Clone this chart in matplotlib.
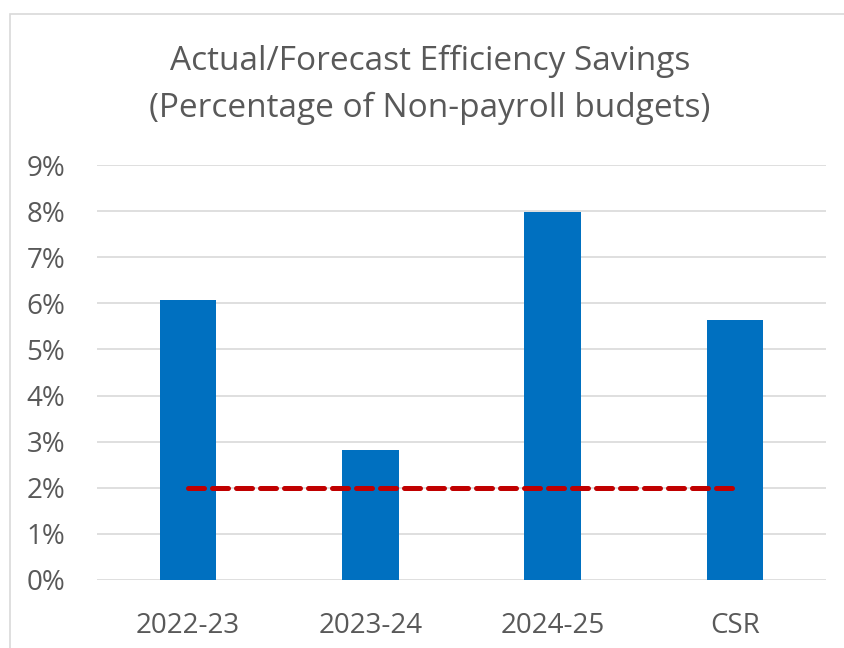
import matplotlib.pyplot as plt
from matplotlib.patches import Rectangle
from matplotlib.ticker import PercentFormatter

# data
categories = ['2022-23', '2023-24', '2024-25', 'CSR']
savings = [6.07, 2.82, 7.98, 5.64]
target = [2.0, 2.0, 2.0, 2.0]

plt.rcParams['font.family'] = ['Open Sans', 'DejaVu Sans']
text_col = '#595959'

fig = plt.figure(figsize=(8.45, 6.48), dpi=100)
ax = fig.add_axes([97 / 845, 68 / 648, 729 / 845, 415 / 648])

x = range(len(categories))
ax.bar(x, savings, width=0.31, color='#0070C0', zorder=2)
ax.plot(x, target, color='#C00000', linewidth=3.6, linestyle=(0, (3.2, 1.6)),
        dash_capstyle='round', zorder=3)

ax.set_xlim(-0.5, 3.5)
ax.set_ylim(0, 9)
ax.set_yticks(range(0, 10))
ax.yaxis.set_major_formatter(PercentFormatter(decimals=0))
ax.set_xticks(list(x))
ax.set_xticklabels(categories)
ax.tick_params(axis='both', length=0, labelsize=20, labelcolor=text_col)
ax.tick_params(axis='y', pad=23)
ax.tick_params(axis='x', pad=23)
ax.grid(axis='y', color='#d9d9d9', linewidth=1.2, zorder=0)
for s in ax.spines.values():
    s.set_visible(False)

fig.text(0.509, 0.905, 'Actual/Forecast Efficiency Savings', ha='center', va='center',
         fontsize=24, color=text_col)
fig.text(0.509, 0.833, '(Percentage of Non-payroll budgets)', ha='center', va='center',
         fontsize=24, color=text_col)

# chart frame
fig.patches.append(Rectangle((10 / 845, -0.1), 1.2, 1.1 - 14.5 / 648, transform=fig.transFigure,
                             fill=False, edgecolor='#d9d9d9', linewidth=1.2))

fig.savefig('out.png', dpi=100)
